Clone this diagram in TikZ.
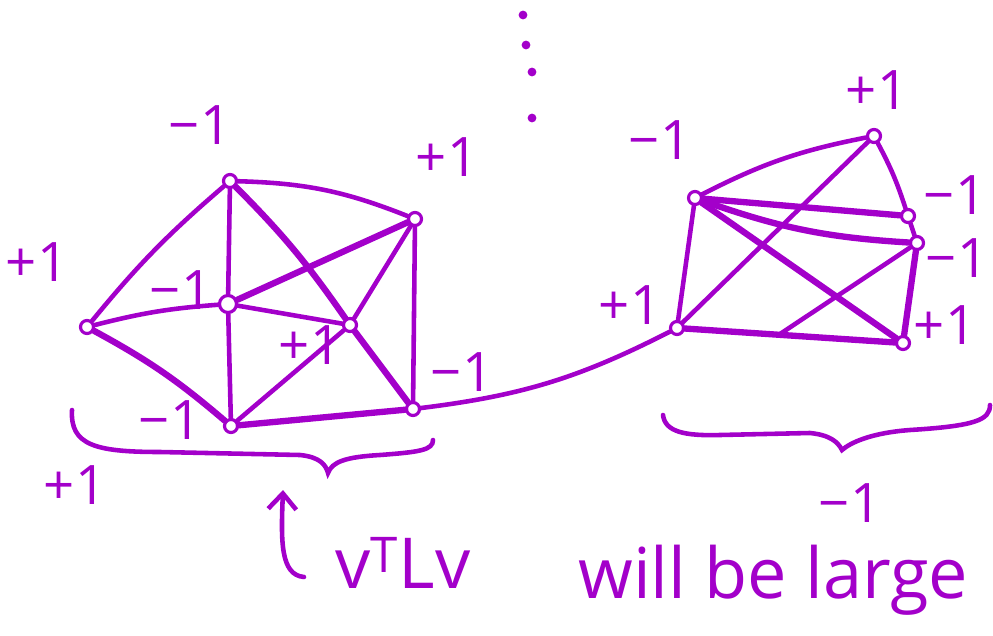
\documentclass[tikz,border=0pt]{standalone}
\usepackage{fontspec}
\setsansfont{Open Sans}
\usetikzlibrary{arrows.meta}
\definecolor{ink}{RGB}{163,0,202}

\begin{document}
\begin{tikzpicture}[
    x=0.02cm, y=-0.02cm,
    vtx/.style={draw=ink, circle, line width=1.8pt, minimum size=0.26cm, inner sep=0pt},
    edge/.style={draw=ink, line width=2.6pt, line cap=round},
    heavy/.style={edge, line width=3.6pt},
    brace/.style={draw=ink, line width=2.6pt, line cap=round},
    sgn/.style={text=ink, font=\sffamily\fontsize{31}{31}\selectfont, inner sep=0pt},
    note/.style={text=ink, font=\sffamily\fontsize{40}{40}\selectfont, inner sep=0pt},
]
\useasboundingbox (0,0) rectangle (993,635);

% ── Left cluster ─────────────────────────────────────────────────────────
\node[vtx] (a) at (87,327) {};
\node[vtx] (b) at (230,181) {};
\node[vtx, minimum height=0.34cm] (c) at (228,304) {};
\node[vtx] (d) at (231,426) {};
\node[vtx] (e) at (415,219) {};
\node[vtx] (f) at (350,325) {};
\node[vtx] (g) at (413,409) {};

\node[sgn] (la) at (37,262) {+1};
\node[sgn] (lb) at (200,125) {−1};
\node[sgn] (lc) at (181,290) {−1};
\node[sgn] (ld) at (170,420) {−1};
\node[sgn] (le) at (447,157) {+1};
\node[sgn] (lf) at (310,345) {+1};
\node[sgn] (lg) at (462,372) {−1};

\draw[edge] (a) to[bend left=5] (b);
\draw[edge] (a) to[bend left=5] (c);
\draw[heavy] (a) to[bend left=6] (d);
\draw[edge] (b) -- (c);
\draw[edge] (b) to[bend left=10] (e);
\draw[heavy] (b) to[bend left=5] (f);
\draw[heavy] (c) -- (e);
\draw[edge] (c) -- (d);
\draw[edge] (c) -- (f);
\draw[edge] (d) -- (f);
\draw[heavy] (d) -- (g);
\draw[edge] (e) -- (f);
\draw[edge] (e) -- (g);
\draw[heavy] (f) -- (g);

% ── Right cluster ────────────────────────────────────────────────────────
\node[vtx] (p) at (695,198) {};
\node[vtx] (q) at (874,136) {};
\node[vtx] (r) at (908,216) {};
\node[vtx] (s) at (917,243) {};
\node[vtx] (t) at (903,343) {};
\node[vtx] (u) at (677,328) {};
\coordinate (ut) at (780,334);

\node[sgn] (lp) at (660,140) {−1};
\node[sgn] (lq) at (877,90) {+1};
\node[sgn] (lr) at (955,195) {−1};
\node[sgn] (ls) at (957,258) {−1};
\node[sgn] (lt) at (945,325) {+1};
\node[sgn] (lu) at (630,305) {+1};

\draw[edge] (p) to[bend left=8] (q);
\draw[edge] (p) -- (u);
\draw[heavy] (p) -- (r);
\draw[heavy] (p) to[bend right=8] (s);
\draw[heavy] (p) -- (t);
\draw[edge] (q) -- (u);
\draw[edge] (q) to[bend left=5] (r);
\draw[edge] (r) -- (s);
\draw[heavy] (s) -- (t);
\draw[edge] (s) -- (ut);
\draw[heavy] (u) -- (t);

% ── Bridge between clusters ─────────────────────────────────────────────
\draw[edge] (g) to[bend right=10] (u);

% ── Braces ───────────────────────────────────────────────────────────────
\draw[brace] (72,410) .. controls (70,445) and (95,452) .. (160,452)
    -- (300,455) .. controls (320,457) and (326,465) .. (328,473)
    .. controls (332,462) and (345,457) .. (380,455)
    .. controls (420,452) and (433,450) .. (433,440);
\node[sgn] (lleft) at (75,485) {+1};

\draw[brace] (663,415) .. controls (665,432) and (685,436) .. (720,435)
    -- (810,433) .. controls (830,435) and (838,442) .. (842,450)
    .. controls (850,443) and (870,433) .. (910,430)
    .. controls (975,426) and (990,420) .. (990,405);
\node[sgn] (lright) at (850,503) {−1};

% ── Dots on top ─────────────────────────────────────────────────────────
\foreach \px/\py in {523/15, 526/45, 532/72, 532/118}
    \fill[ink] (\px,\py) circle (2.5pt);

% ── Caption ─────────────────────────────────────────────────────────────
\coordinate (tail) at (304,577);
\coordinate (tip) at (283,490);
\draw[edge, -{Straight Barb[length=9pt, width=16pt]}] (tail)
    .. controls (280,575) and (281,540) .. (tip);
\node[note, anchor=base west] (expr) at (335,588) {v\textsuperscript{T}Lv};
\node[note, anchor=base west] (large) at (578,598) {will be large};

\end{tikzpicture}
\end{document}
